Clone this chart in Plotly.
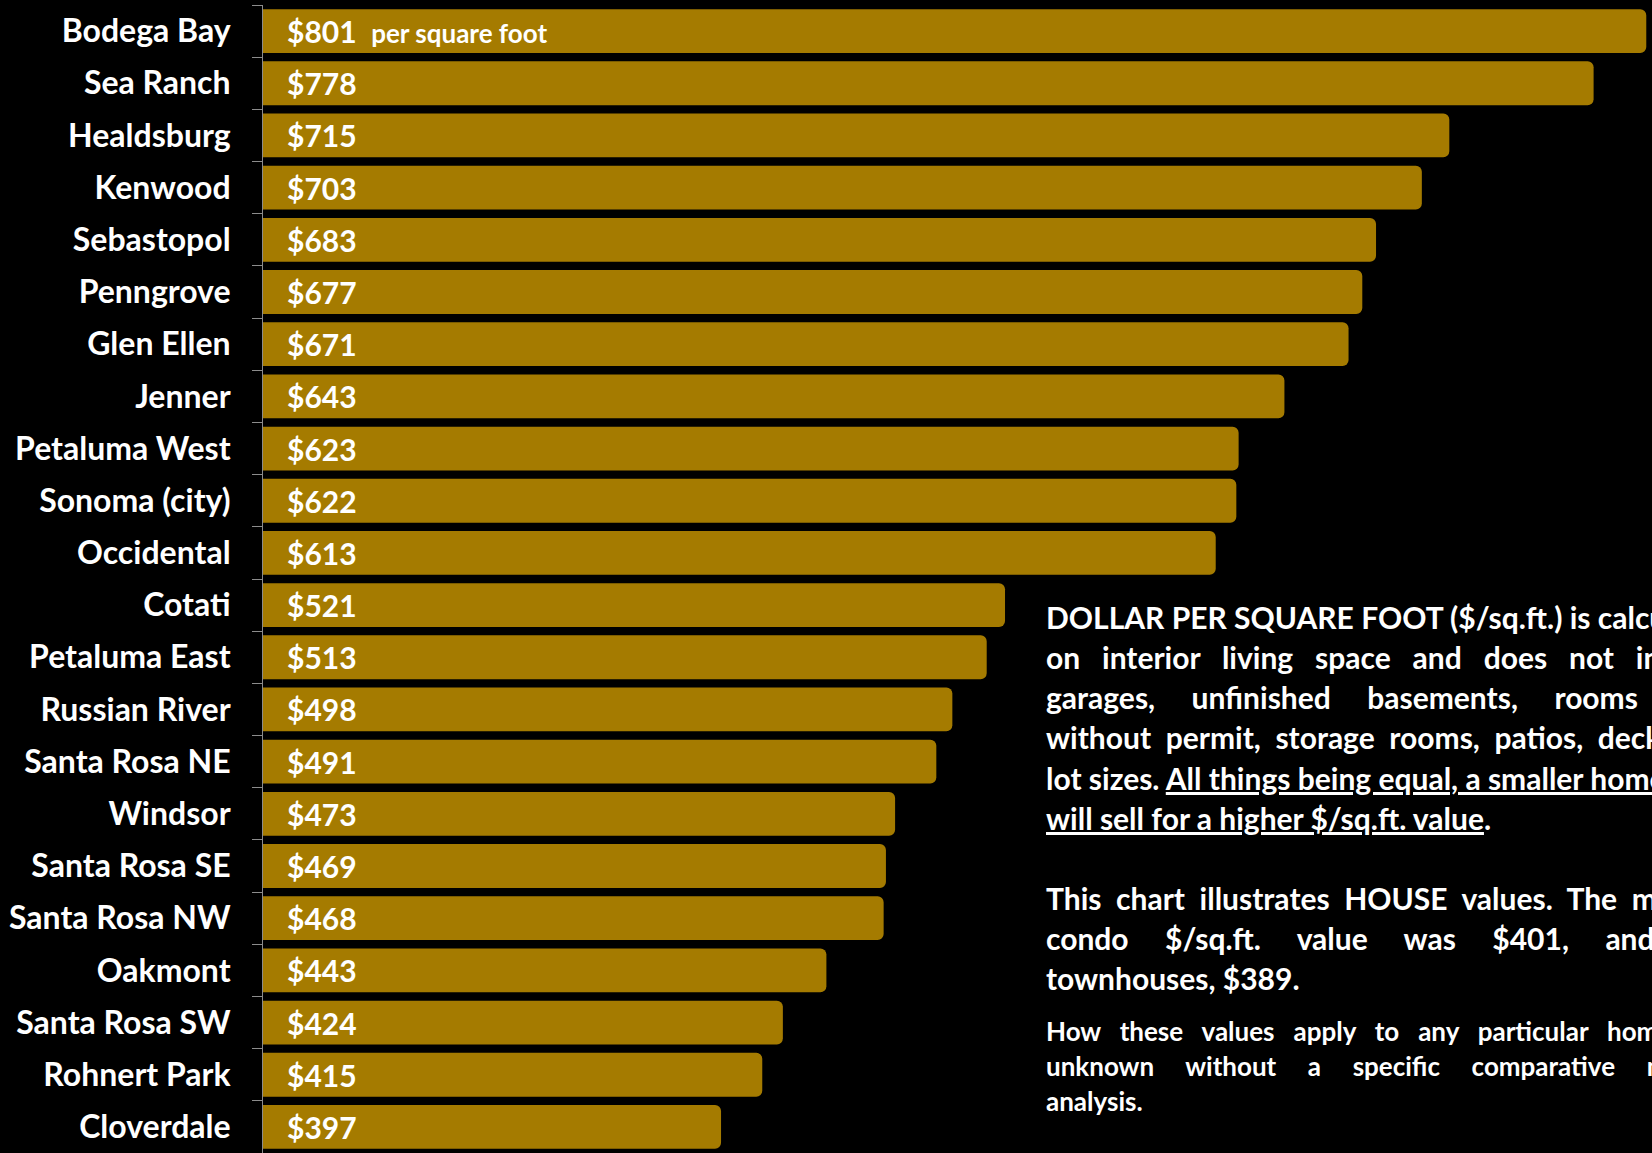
import plotly.graph_objects as go

cities = ["Bodega Bay", "Sea Ranch", "Healdsburg", "Kenwood", "Sebastopol", "Penngrove",
          "Glen Ellen", "Jenner", "Petaluma West", "Sonoma (city)", "Occidental", "Cotati",
          "Petaluma East", "Russian River", "Santa Rosa NE", "Windsor", "Santa Rosa SE",
          "Santa Rosa NW", "Oakmont", "Santa Rosa SW", "Rohnert Park", "Cloverdale"]
values = [801, 778, 715, 703, 683, 677, 671, 643, 623, 622, 613, 521,
          513, 498, 491, 473, 469, 468, 443, 424, 415, 397]

FONT = "Lato"
GOLD = "#A57B00"
AXIS_MIN = 197
AXIS_MAX = 803.5

# (text, extra non-breaking spaces per gap to mimic justified text)
para1 = [
    ("DOLLAR PER SQUARE FOOT ($/sq.ft.) is calculated based", 0),
    ("on interior living space and does not include", 2),
    ("garages, unfinished basements, rooms added", 4),
    ("without permit, storage rooms, patios, decks or", 1),
    ("lot sizes. <u>All things being equal, a smaller home</u>", 0),
    ("<u>will sell for a higher $/sq.ft. value</u>.", 0),
]
para2 = [
    ("This chart illustrates HOUSE values. The median", 1),
    ("condo $/sq.ft. value was $401, and", 4),
    ("townhouses, $389.", 0),
]
para3 = [
    ("How these values apply to any particular home is", 2),
    ("unknown without a specific comparative market", 4),
    ("analysis.", 0),
]

fig = go.Figure(go.Bar(
    x=values, y=cities, orientation="h",
    marker=dict(color=GOLD, cornerradius=6, line=dict(width=0)),
    hoverinfo="skip",
))

annotations = []
for i, (c, v) in enumerate(zip(cities, values)):
    txt = f"${v}"
    if i == 0:
        txt += " \u00a0<span style='font-size:26px'>per square foot</span>"
    annotations.append(dict(
        x=AXIS_MIN, y=c, xref="x", yref="y", text=txt, showarrow=False,
        xanchor="left", yanchor="middle", xshift=22,
        font=dict(family=FONT, size=30, color="white", weight="bold"),
    ))

W, H = 1652, 1153
L, T = 263, 5

fig.update_layout(
    width=W, height=H,
    paper_bgcolor="black", plot_bgcolor="black",
    margin=dict(l=L, r=0, t=T, b=0),
    bargap=0.16,
    showlegend=False,
    xaxis=dict(range=[AXIS_MIN, AXIS_MAX], visible=False, fixedrange=True),
    yaxis=dict(
        categoryorder="array", categoryarray=cities, autorange="reversed",
        showline=True, linecolor="#8c8c8c", linewidth=1,
        ticks="outside", ticklen=10, tickcolor="#8c8c8c", tickson="boundaries",
        ticklabelstandoff=25, showgrid=False, fixedrange=True,
        tickfont=dict(family=FONT, size=32, color="white", weight="bold"),
    ),
)

pw, ph = W - L, H - T
for lines, ys, size in [(para1, [617, 657, 697, 737, 778, 818], 30),
                        (para2, [898, 938, 978], 30),
                        (para3, [1031, 1066, 1101], 26)]:
    for (line, extra), ypix in zip(lines, ys):
        txt = line.replace(" ", " " + "\u00a0" * extra) if extra else line
        annotations.append(dict(
            x=(1044 - L) / pw, y=1 - (ypix - T) / ph, xref="paper", yref="paper",
            text=txt, showarrow=False, xanchor="left", yanchor="middle",
            font=dict(family=FONT, size=size, color="white", weight="bold"),
        ))

fig.update_layout(annotations=annotations)
fig.write_html(
    "out.html",
    config={"displayModeBar": False},
    post_script="document.body.style.margin='0';document.body.style.background='black';",
)
